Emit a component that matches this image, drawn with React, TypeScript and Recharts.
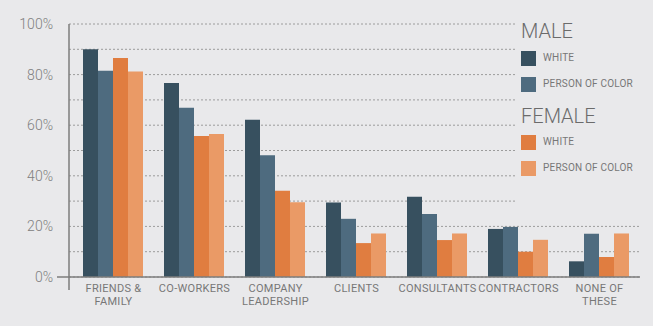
import React from 'react';
import { BarChart, Bar, XAxis, YAxis, CartesianGrid, Legend } from 'recharts';

const categories = ['FRIENDS &\nFAMILY', 'CO-WORKERS', 'COMPANY\nLEADERSHIP', 'CLIENTS', 'CONSULTANTS', 'CONTRACTORS', 'NONE OF\nTHESE'];
const maleWhite = [90, 76.7, 62.2, 29.4, 31.7, 19.0, 6.2];
const malePOC = [81.5, 66.9, 48.1, 23.0, 24.9, 19.8, 17.1];
const femaleWhite = [86.6, 55.7, 34.1, 13.4, 14.6, 10.0, 7.9];
const femalePOC = [81.2, 56.5, 29.5, 17.2, 17.2, 14.7, 17.2];
const seriesKeys = ['maleWhite', 'malePOC', 'femaleWhite', 'femalePOC'];
const yTicks = [0, 10, 20, 30, 40, 50, 60, 70, 80, 90, 100];
const yLabelTicks = [0, 20, 40, 60, 80, 100];

const data = categories.map((c, i) => ({
  name: c,
  maleWhite: maleWhite[i],
  malePOC: malePOC[i],
  femaleWhite: femaleWhite[i],
  femalePOC: femalePOC[i],
}));

const W = 653;
const H = 326;
const MARGIN = { top: 24, right: 13, bottom: 0, left: 0 };
const XAXIS_H = 49;
const PLOT_BOTTOM = H - MARGIN.bottom - XAXIS_H;
const PLOT_H = PLOT_BOTTOM - MARGIN.top;
const LEGEND_X = 516;
const AXIS_COLOR = '#7d7d7d';
const BG = '#e9e9eb';
const FONT = 'Roboto, "DejaVu Sans", sans-serif';

const GridLine = (p: any) => {
  const frac = (PLOT_BOTTOM - p.y1) / PLOT_H;
  const x2 = frac > 0.25 ? LEGEND_X : p.x2;
  return (
    <line
      key={p.key}
      x1={p.x1}
      y1={p.y1}
      x2={x2}
      y2={p.y2}
      stroke="#9c9c9c"
      strokeWidth={1}
      strokeDasharray="2 2"
    />
  );
};

const YTick = (p: any) => {
  const v = p.payload.value;
  if (!yLabelTicks.includes(v)) return null;
  const axisX = p.x + 16;
  return (
    <g>
      <text
        x={p.x}
        y={p.y}
        dy={5}
        textAnchor="end"
        fontSize={14}
        fontWeight={300}
        fill="#808080"
        fontFamily={FONT}
      >
        {v}%
      </text>
      {v === 0 && (
        <g>
          <line x1={axisX - 12} y1={p.y} x2={axisX} y2={p.y} stroke={AXIS_COLOR} strokeWidth={1.5} />
          <line x1={axisX} y1={p.y} x2={axisX} y2={p.y + 13} stroke={AXIS_COLOR} strokeWidth={1.5} />
        </g>
      )}
    </g>
  );
};

const XTick = (p: any) => {
  const lines = String(p.payload.value).split('\n');
  return (
    <text
      x={p.x}
      y={p.y}
      textAnchor="middle"
      fontSize={11}
      fill="#777"
      fontFamily={FONT}
      letterSpacing={0.3}
    >
      {lines.map((l, i) => (
        <tspan key={i} x={p.x} dy={i === 0 ? 15 : 13}>
          {l}
        </tspan>
      ))}
    </text>
  );
};

const LegendContent = (props: any) => {
  const payload = [...(props.payload || [])].sort(
    (a: any, b: any) => seriesKeys.indexOf(String(a.dataKey)) - seriesKeys.indexOf(String(b.dataKey))
  );
  const male = payload.filter((e: any) => String(e.dataKey).startsWith('male'));
  const female = payload.filter((e: any) => String(e.dataKey).startsWith('female'));
  const item = (e: any) => (
    <div key={String(e.dataKey)} style={{ display: 'flex', alignItems: 'center', height: 26 }}>
      <div style={{ width: 15, height: 15, background: e.color, marginRight: 7 }} />
      <span style={{ fontSize: 10, color: '#777', fontFamily: FONT, lineHeight: '26px', letterSpacing: 0.2 }}>{e.value}</span>
    </div>
  );
  return (
    <div style={{ fontFamily: FONT, textAlign: 'left' }}>
      <div style={{ fontSize: 20, fontWeight: 300, color: '#6b6b6b', height: 27, lineHeight: '27px' }}>MALE</div>
      {male.map(item)}
      <div style={{ fontSize: 20, fontWeight: 300, color: '#6b6b6b', height: 26, paddingTop: 6, lineHeight: '26px' }}>FEMALE</div>
      {female.map(item)}
    </div>
  );
};

export default function App() {
  return (
    <div style={{ position: 'absolute', left: 0, top: 0, width: W, height: H, background: BG }}>
      <BarChart width={W} height={H} data={data} margin={MARGIN} barCategoryGap={10} barGap={0}>
        <CartesianGrid vertical={false} horizontal={GridLine} />
        <XAxis
          dataKey="name"
          height={XAXIS_H}
          tickSize={0}
          tickMargin={0}
          interval={0}
          padding={{ left: 4, right: 0 }}
          axisLine={{ stroke: AXIS_COLOR, strokeWidth: 1.5 }}
          tickLine={false}
          tick={<XTick />}
        />
        <YAxis
          width={69}
          domain={[0, 100]}
          ticks={yTicks}
          interval={0}
          tickSize={0}
          tickMargin={16}
          tickLine={false}
          axisLine={{ stroke: AXIS_COLOR, strokeWidth: 1.5 }}
          tick={<YTick />}
        />
        <Legend
          layout="vertical"
          align="center"
          verticalAlign="middle"
          wrapperStyle={{ left: 521, top: 18, width: 132 }}
          content={<LegendContent />}
        />
        <Bar dataKey="maleWhite" name="WHITE" fill="#37505f" isAnimationActive={false} />
        <Bar dataKey="malePOC" name="PERSON OF COLOR" fill="#4e6b7f" isAnimationActive={false} />
        <Bar dataKey="femaleWhite" name="WHITE" fill="#e07d40" isAnimationActive={false} />
        <Bar dataKey="femalePOC" name="PERSON OF COLOR" fill="#ea9a66" isAnimationActive={false} />
      </BarChart>
    </div>
  );
}
